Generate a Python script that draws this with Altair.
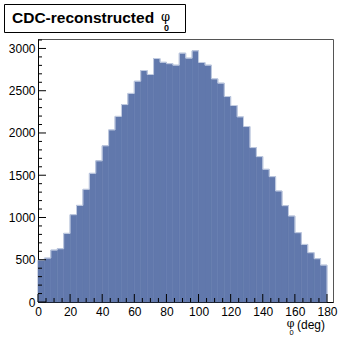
import altair as alt
import pandas as pd

# histogram: 45 bins of 4 deg from 0 to 180
bin_edges_lo = list(range(0, 180, 4))
counts = [495, 519, 614, 630, 812, 1033, 1143, 1333, 1522, 1670,
          1848, 2036, 2196, 2336, 2468, 2612, 2739, 2692, 2881, 2836,
          2820, 2802, 2944, 2885, 2972, 2834, 2802, 2640, 2589, 2431,
          2325, 2190, 2076, 1827, 1720, 1570, 1483, 1313, 1140, 1017,
          820, 681, 583, 512, 436]

x_major = list(range(0, 181, 20))
x_minor = [v for v in range(0, 181, 5) if v % 20 != 0]
y_major = list(range(0, 3001, 500))
y_minor = [v for v in range(0, 3101, 100) if v % 500 != 0]

W, H = 295, 263
FONT = "Liberation Sans"
FILL = "#6178ac"
EDGE = "#c3cde2"

df = pd.DataFrame({"lo": bin_edges_lo,
                   "hi": [v + 4 for v in bin_edges_lo],
                   "count": counts})
outline = pd.DataFrame({"x": bin_edges_lo + [180, 180],
                        "y": counts + [counts[-1], 0],
                        "o": list(range(len(counts) + 2))})

xs = alt.Scale(domain=[0, 183.75], nice=False, zero=False)
ys = alt.Scale(domain=[0, 3112], nice=False)

XAX = alt.Axis(values=x_major, ticks=False, grid=False, title=None,
               domainColor="black", labelFont=FONT, labelFontSize=12,
               labelColor="black", labelPadding=4, labelFlush=False,
               labelOverlap=False, format="d")
YAX = alt.Axis(values=y_major, ticks=False, grid=False, title=None,
               domainColor="black", labelFont=FONT, labelFontSize=12,
               labelColor="black", labelPadding=3, labelOverlap=False,
               format="d")

bars = alt.Chart(df).mark_rect(color=FILL, stroke=FILL, strokeWidth=0.6).encode(
    x=alt.X("lo:Q", scale=xs, axis=XAX),
    x2="hi:Q",
    y=alt.Y("count:Q", scale=ys, axis=YAX),
    y2=alt.datum(0),
)

edge = alt.Chart(outline).mark_line(color=EDGE, strokeWidth=1, interpolate="step-after").encode(
    x=alt.X("x:Q", scale=xs, axis=XAX),
    y=alt.Y("y:Q", scale=ys, axis=YAX),
    order="o:Q",
)

def xticks(vals, length):
    return alt.Chart(pd.DataFrame({"v": vals})).mark_rule(color="black", strokeWidth=1).encode(
        x=alt.X("v:Q", scale=xs, axis=XAX), y=alt.value(H), y2=alt.value(H - length))

def yticks(vals, length):
    return alt.Chart(pd.DataFrame({"v": vals})).mark_rule(color="black", strokeWidth=1).encode(
        y=alt.Y("v:Q", scale=ys, axis=YAX), x=alt.value(0), x2=alt.value(length))

one = pd.DataFrame({"k": [0]})

title_box = alt.Chart(one).mark_rect(fill="white", stroke="black", strokeWidth=1).encode(
    x=alt.value(-33.5), x2=alt.value(147.5), y=alt.value(-34.5), y2=alt.value(-6.5))
title_txt = alt.Chart(one).mark_text(text="CDC-reconstructed", font=FONT, fontSize=15.5,
                                     fontWeight="bold", align="left", baseline="alphabetic",
                                     color="black").encode(x=alt.value(-26), y=alt.value(-16))
title_phi = alt.Chart(one).mark_text(text="φ", font="DejaVu Serif", fontSize=13,
                                     align="center", baseline="alphabetic",
                                     color="black").encode(x=alt.value(127.5), y=alt.value(-18))
title_sub = alt.Chart(one).mark_text(text="0", font=FONT, fontSize=9, fontWeight="bold",
                                     align="center", baseline="alphabetic",
                                     color="black").encode(x=alt.value(128.5), y=alt.value(-8))

xt_phi = alt.Chart(one).mark_text(text="φ", font="DejaVu Serif", fontSize=11,
                                  align="center", baseline="alphabetic",
                                  color="black").encode(x=alt.value(252.5), y=alt.value(288))
xt_sub = alt.Chart(one).mark_text(text="0", font=FONT, fontSize=7.5,
                                  align="center", baseline="alphabetic",
                                  color="black").encode(x=alt.value(253.5), y=alt.value(296))
xt_deg = alt.Chart(one).mark_text(text="(deg)", font=FONT, fontSize=12,
                                  align="left", baseline="alphabetic",
                                  color="black").encode(x=alt.value(259), y=alt.value(290))

chart = alt.layer(
    bars, edge,
    xticks(x_major, 8), xticks(x_minor, 4),
    yticks(y_major, 8), yticks(y_minor, 4),
    title_box, title_txt, title_phi, title_sub,
    xt_phi, xt_sub, xt_deg,
).properties(
    width=W, height=H,
    autosize=alt.AutoSizeParams(type="none"),
    padding={"left": 38, "top": 39, "right": 5, "bottom": 36},
    background="white",
).configure_view(stroke="#555555", strokeWidth=1)

chart.save("out.html", embed_options={"renderer": "svg", "actions": False})
